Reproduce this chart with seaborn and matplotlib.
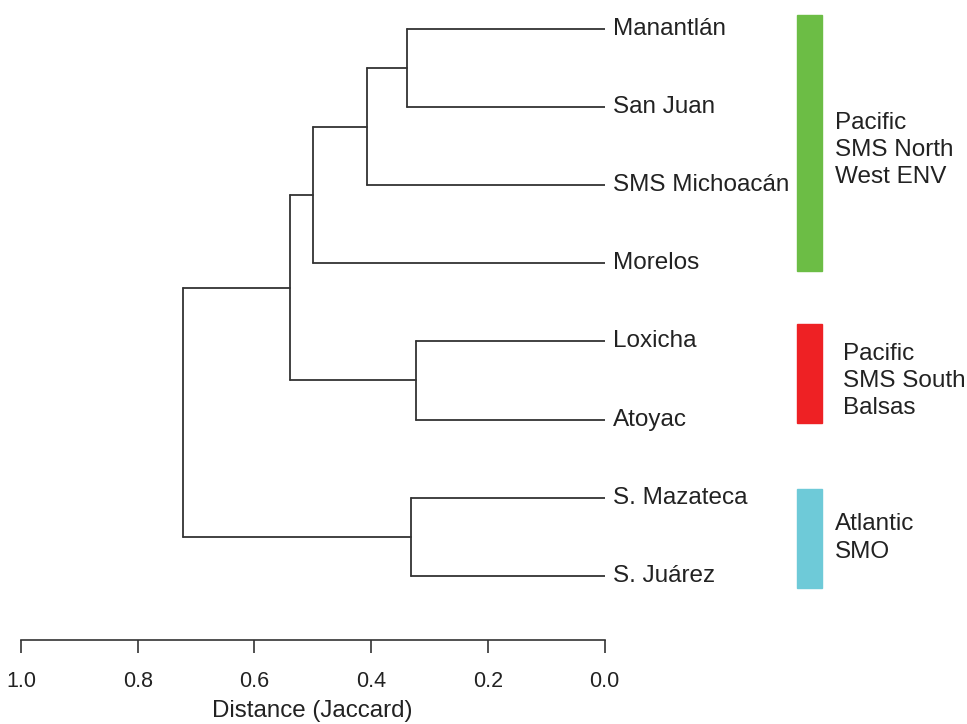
import numpy as np
import pandas as pd
import matplotlib
matplotlib.use("Agg")
import matplotlib.pyplot as plt
import seaborn as sns

# ---- data ----
leaves = ["Manantlán", "San Juan", "SMS Michoacán", "Morelos",
          "Loxicha", "Atoyac", "S. Mazateca", "S. Juárez"]
# merges: (left child, right child, height); children are leaf names or merge ids "m0".."m6"
merge_left = ["Manantlán", "m0", "m1", "Loxicha", "m2", "S. Mazateca", "m4"]
merge_right = ["San Juan", "SMS Michoacán", "Morelos", "Atoyac", "m3", "S. Juárez", "m5"]
merge_height = [0.339, 0.407, 0.499, 0.323, 0.539, 0.332, 0.723]
ticks = [1.0, 0.8, 0.6, 0.4, 0.2, 0.0]
tick_labels = ["1.0", "0.8", "0.6", "0.4", "0.2", "0.0"]
groups = ["Pacific\nSMS North\nWest ENV", "Pacific\nSMS South\nBalsas", "Atlantic\nSMO"]
group_colors = ["#6cbd45", "#ee2124", "#6ecad8"]

# ---- build segments ----
pos = {name: (i, 0.0) for i, name in enumerate(leaves)}
rows = []
seg = 0
for k, (a, b, h) in enumerate(zip(merge_left, merge_right, merge_height)):
    ya, ha = pos[a]
    yb, hb = pos[b]
    for xs, ys in [((ha, h), (ya, ya)), ((h, h), (ya, yb)), ((hb, h), (yb, yb))]:
        for x, y in zip(xs, ys):
            rows.append({"seg": seg, "x": x, "y": y})
        seg += 1
    pos[f"m{k}"] = ((ya + yb) / 2.0, h)
df = pd.DataFrame(rows)

sns.set_theme(style="white")
plt.rcParams['font.family'] = ['Liberation Sans', 'DejaVu Sans']

W, H = 967, 724
fig = plt.figure(figsize=(W / 100, H / 100), dpi=100)
ax = fig.add_axes([21 / W, 1 - 640 / H, 583.5 / W, 640 / H])

sns.lineplot(data=df, x="x", y="y", units="seg", estimator=None, sort=False,
             color="#333333", linewidth=1.3, ax=ax, legend=False)

ax.set_xlim(1.0, 0.0)
ax.set_ylim(7.823, -0.372)
for s in ["top", "left", "right"]:
    ax.spines[s].set_visible(False)
ax.spines["bottom"].set_color("#333333")
ax.spines["bottom"].set_linewidth(1.2)
ax.set_yticks([])
ax.set_xticks(ticks)
ax.set_xticklabels(tick_labels, fontsize=15.5, color="#222222")
ax.tick_params(axis="x", bottom=True, length=9, width=1.2, color="#333333", pad=13)
ax.set_xlabel("Distance (Jaccard)", fontsize=17.4, color="#222222", labelpad=6)
ax.set_ylabel("")

for i, name in enumerate(leaves):
    ax.text(-0.014, i, name, ha="left", va="center", fontsize=17.5,
            color="#222222", clip_on=False)

# colour bars and group labels (figure pixel coordinates)
bar_spans = [(15, 271), (324, 423), (489, 588)]
text_x = [835, 843, 835]
text_y = [150, 381, 538]
for (top, bot), c, g, tx, ty in zip(bar_spans, group_colors, groups, text_x, text_y):
    fig.patches.append(plt.Rectangle((797 / W, 1 - bot / H), 25 / W, (bot - top) / H,
                                     transform=fig.transFigure, color=c, zorder=3))
    fig.text(tx / W, 1 - ty / H, g, ha="left", va="center", fontsize=17.5,
             color="#222222", linespacing=1.32)

fig.savefig("out.png", dpi=100)
